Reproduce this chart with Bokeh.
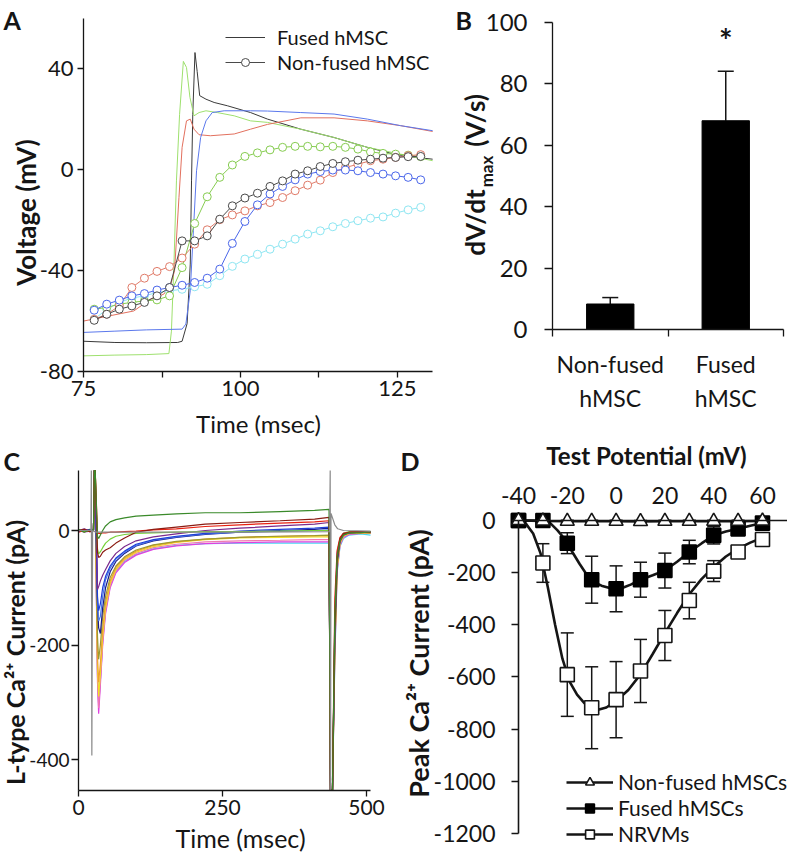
import math
from bokeh.plotting import figure
from bokeh.models import (ColumnDataSource, FixedTicker, Label, Legend, LegendItem,
                          Whisker, TeeHead, LinearAxis, Range1d)
from bokeh.layouts import column, row
from bokeh.embed import file_html
from bokeh.resources import INLINE
from bokeh.core.properties import value

FONT = "Lato"
INK = "#151515"

# ------------------------------------------------------------------ Panel A data
a_fused_black_t = [75, 80, 85, 90, 90.7, 91.5, 92.0, 92.2, 92.4, 92.75, 93.1, 93.5, 94.5, 95.8, 97.9, 101.6, 104.3, 109.6, 114.9, 120.2, 125.5, 130.6]
a_fused_black_v = [-68, -68.5, -68.6, -68.5, -68, -61, -37.4, -4.4, 22, 46.5, 39, 29.4, 28, 26.7, 25.4, 22.7, 20.1, 16.1, 12.8, 8.9, 5.6, 4.2]
a_fused_green_t = [75, 80, 85, 88.6, 89.0, 89.4, 89.8, 90.3, 90.9, 91.4, 91.95, 92.6, 93.4, 94.5, 96.3, 99, 101.6, 104.3, 109.6, 114.9, 120.2, 125.5, 130.6]
a_fused_green_v = [-73.8, -73.5, -73.3, -72.9, -64, -37.4, -4.4, 22, 43, 40.6, 28.7, 21.4, 22.7, 23.4, 22.7, 21.4, 19.4, 18.8, 16.1, 12.8, 8.9, 6.2, 3.6]
a_fused_red_t = [75, 79, 83, 85.7, 87.8, 88.9, 89.5, 90.2, 90.7, 91.4, 92, 92.6, 93.4, 95.2, 99, 101.6, 104.3, 109.6, 114.9, 120.2, 125.5, 130.6]
a_fused_red_v = [-60, -58, -56, -51.3, -49.3, -45.4, -40, -11, 8.9, 19.4, 20.1, 16.1, 13.9, 13.5, 14.2, 16.1, 18, 20.6, 20.6, 19.4, 17.5, 15.2]
a_fused_blue_t = [75, 80, 85, 90.7, 91.3, 92, 92.5, 93, 93.65, 94.5, 95.5, 97.4, 101.6, 104.3, 109.6, 114.9, 120.2, 125.5, 130.6]
a_fused_blue_v = [-64.5, -64, -63.5, -63.2, -61.2, -48, -24.2, -0.4, 12.8, 19.4, 22.7, 23.4, 23.4, 23.3, 22.7, 22.1, 20.1, 17.5, 15.5]

a_nf_time = [76.7, 78.7, 80.7, 82.7, 84.7, 86.7, 88.7, 90.7, 92.7, 94.7, 96.7, 98.7, 100.7, 102.7,
             104.7, 106.7, 108.7, 110.7, 112.7, 114.7, 116.7, 118.7, 120.7, 122.7, 124.7, 126.7, 128.7]
a_nf_green = [-55.3, -54.6, -53.3, -52.6, -52.0, -51.6, -50.0, -38.8, -21.3, -10.7, -3.0, 1.9, 5.3, 6.7,
              7.9, 8.9, 9.3, 9.3, 9.1, 9.3, 8.9, 8.2, 7.1, 6.5, 6.2, 5.8, 5.2]
a_nf_black = [-59.7, -57.3, -55.3, -54.0, -52.6, -50.0, -46.7, -28.2, -28.2, -26.2, -19.6, -14.3, -11.2, -9.3,
              -6.6, -4.4, -1.7, -0.4, 1.3, 2.5, 3.2, 3.8, 4.2, 4.6, 4.9, 5.2, 5.3]
a_nf_red = [-59.3, -57.3, -54.0, -46.7, -43.0, -40.3, -38.4, -35.0, -29.5, -23.8, -19.8, -17.9, -16.3, -14.3,
            -13.0, -11.0, -8.3, -6.1, -4.1, -1.1, 0.9, 2.2, 3.6, 4.2, 4.9, 5.6, 6.0]
a_nf_blue = [-55.7, -53.3, -51.7, -50.0, -49.1, -47.7, -46.7, -45.8, -44.7, -43.0, -39.4, -29.2, -20.5, -13.9,
             -9.6, -6.6, -4.0, -1.7, -0.7, -0.1, -0.1, -0.4, -1.1, -1.7, -2.4, -3.0, -4.0]
a_nf_cyan = [-59.3, -55.3, -52.6, -50.9, -50.0, -48.7, -48.0, -47.4, -46.4, -45.4, -42.0, -38.3, -35.4, -33.5,
             -31.5, -29.5, -27.5, -25.5, -24.2, -22.6, -21.3, -20.2, -19.2, -18.7, -17.2, -15.9, -14.9]
a_x_span = [75, 130.6]
a_y_span = [-80, 60]
a_x_ticks = [75, 87.5, 100, 112.5, 125]
a_x_labels = ["75", "", "100", "", "125"]
a_y_ticks = [-80, -40, 0, 40]

# ------------------------------------------------------------------ Panel B data
b_groups = ["Non-fused\nhMSC", "Fused\nhMSC"]
b_means = [8.3, 68.0]
b_errs = [2.1, 16.1]
b_y_ticks = [0, 20, 40, 60, 80, 100]

# ------------------------------------------------------------------ Panel C data
c_x_span = [0, 507]
c_y_span = [-454, 104.8]
c_time = [0, 10, 20, 26, 27.5, 29, 33, 35, 38, 42, 47, 55, 65, 80, 100, 130, 170, 220, 280, 350, 410,
          435, 437.5, 441, 445, 449, 454, 460, 470, 490, 507]
c_darkgreen = [2, -3, 1, 0, 104.8, 104.8, -10, -14, -8, 0, 8, 15, 19, 22, 25, 27, 29, 31, 31, 33, 35, 37, -454, -454, -150, -45, -18, -8, -4, -4, -2]
c_brown = [0, 2, -2, 0, 104.8, 104.8, -38, -47, -45, -38, -34, -30, -22, -13, -3, 2, 6, 11, 14, 17, 20, 23, -454, -454, -170, -50, -15, -6, -3, -2, -3]
c_red = [-3, 0, -2, 0, 104.8, 104.8, -4, -5, -5, -4, -4, -3, -3, -2, -1, 1, 3, 7, 10, 13, 15, 17, -454, -454, -120, -35, -12, -5, -3, -2, -2]
c_lightgreen = [1, -2, 0, 0, 104.8, 104.8, -32, -41, -37, -30, -22, -15, -10, -7, -5, -4, -3, -2, -2, -1, 0, 0, -454, -454, -160, -45, -14, -5, -2, -2, -3]
c_purple = [0, 3, -1, 0, 104.8, 104.8, -103, -98, -88, -78, -68, -53, -40, -28, -18, -11, -6, 0, 4, 8, 11, 14, -454, -454, -170, -50, -16, -6, -3, -2, -3]
c_blue = [-2, 0, 1, 0, 104.8, 90, -115, -140, -128, -100, -80, -62, -48, -36, -24, -16, -10, -5, -1, 2, 4, 6, -454, -454, -150, -40, -14, -5, -3, -2, -3]
c_navy = [0, -1, 2, 0, 104.8, 80, -130, -170, -180, -135, -100, -72, -54, -40, -27, -18, -12, -7, -3, 0, 2, 4, -454, -454, -190, -55, -18, -7, -4, -3, -3]
c_lightblue = [1, 0, -2, 0, 104.8, 85, -125, -158, -150, -115, -86, -66, -50, -38, -26, -17, -11, -6, -3, -1, 0, 1, -454, -454, -175, -50, -16, -6, -3, -2, -2]
c_olive = [0, -2, 0, 0, 104.8, 60, -185, -225, -200, -150, -115, -82, -62, -46, -34, -25, -19, -15, -12, -10, -9, -8, -454, -454, -200, -60, -20, -8, -4, -3, -4]
c_yellow = [-1, 1, 0, 0, 104.8, 50, -240, -290, -250, -185, -135, -92, -68, -50, -38, -28, -21, -16, -13, -12, -11, -11, -454, -454, -210, -65, -22, -9, -5, -4, -4]
c_orange = [0, -1, 1, 0, 104.8, 55, -220, -265, -232, -172, -126, -88, -65, -48, -36, -26, -20, -15, -12, -10, -9, -9, -454, -454, -205, -62, -21, -9, -5, -4, -4]
c_magenta = [0, -3, -1, 0, 104.8, 45, -265, -320, -270, -200, -145, -100, -74, -56, -43, -33, -27, -23, -21, -20, -20, -20, -454, -454, -220, -70, -26, -12, -7, -5, -5]
c_cyan = [-2, 0, -1, 0, 104.8, 48, -250, -305, -262, -192, -140, -97, -72, -54, -42, -32, -26, -23, -22, -22, -22, -22, -454, -454, -230, -75, -28, -14, -8, -6, -8]
c_pink = [0, 1, -1, 0, 104.8, 48, -255, -310, -262, -195, -140, -96, -70, -52, -40, -30, -24, -20, -18, -17, -16, -16, -454, -454, -215, -68, -24, -11, -6, -5, -5]
c_gray_time = [0, 21.5, 22.3, 23.2, 24.5, 30, 100, 300, 436, 437, 437.6, 438.4, 441, 445, 450, 460, 507]
c_gray = [0, 0, 104.8, -393, 0, -3, -3, -3, -2, 104.8, -454, 30, 22, 10, 3, 0, -1]
c_x_ticks = [0, 250, 500]
c_y_ticks = [-400, -200, 0]

# ------------------------------------------------------------------ Panel D data
d_potential = [-40, -30, -20, -10, 0, 10, 20, 30, 40, 50, 60]
d_nonfused = [0, -2, -3, -3, -3, -4, -3, -3, -3, -3, -2]
d_nonfused_err = [3, 3, 4, 4, 4, 4, 4, 4, 4, 4, 3]
d_fused = [0, 0, -87, -227, -262, -227, -192, -121, -57, -32, -10]
d_fused_err = [0, 5, 40, 90, 88, 67, 67, 45, 33, 16, 8]
d_nrvm = [0, -163, -591, -718, -687, -577, -441, -307, -194, -121, -73]
d_nrvm_err = [0, 74, 160, 157, 146, 121, 96, 70, 40, 15, 6]
d_fused_fit_x = [-40, -35, -30, -27, -24, -21, -18, -15, -12, -9, -6, -3, 0, 3, 6, 10, 15, 20, 25, 30, 35, 40, 45, 50, 55, 60]
d_fused_fit_y = [0, 0, -1, -10, -38, -72, -120, -166, -208, -236, -250, -258, -262, -257, -246, -227, -210, -192, -158, -121, -88, -57, -42, -32, -20, -10]
d_nrvm_fit_x = [-40, -37, -34, -31, -28, -25, -22, -19, -16, -13, -10, -7, -4, 0, 5, 10, 15, 20, 25, 30, 35, 40, 45, 50, 55, 60]
d_nrvm_fit_y = [0, -12, -50, -125, -255, -400, -530, -619, -668, -700, -718, -725, -717, -692, -650, -590, -512, -432, -355, -283, -225, -178, -138, -108, -85, -66]
d_x_ticks = [-40, -20, 0, 20, 40, 60]
d_y_ticks = [-1200, -1000, -800, -600, -400, -200, 0]


def plain(ticks, labels=None):
    labels = labels or [str(t) for t in ticks]
    return dict(zip(ticks, labels))


def make_axis(loc, bounds, ticks, size, tick_out, standoff, overrides=None, line_w=1.3):
    return LinearAxis(fixed_location=loc, bounds=tuple(bounds), ticker=FixedTicker(ticks=ticks),
                      major_label_overrides=overrides or plain(ticks),
                      axis_line_color=INK, axis_line_width=line_w,
                      major_tick_line_color=INK, major_tick_line_width=1.3,
                      major_tick_out=tick_out, major_tick_in=0, minor_tick_line_color=None,
                      major_label_text_font=FONT, major_label_text_font_size=size,
                      major_label_text_color=INK, major_label_standoff=standoff)


def base_fig(w, h, xr, yr):
    # the whole canvas is the plot frame; axes sit at fixed spots inside it
    p = figure(width=w, height=h, x_range=Range1d(*xr), y_range=Range1d(*yr),
               x_axis_location=None, y_axis_location=None, title_location=None,
               output_backend="svg", toolbar_location=None, min_border=0)
    for g in p.grid:
        g.visible = False
    p.outline_line_color = None
    return p


def put(p, text, sx, sy, size, bold=False, angle=0.0, align="left", baseline="top"):
    # sx, sy: pixels from the left / top of this figure
    p.add_layout(Label(x=sx, y=p.height - sy, x_units="screen", y_units="screen", text=text,
                       angle=angle, text_font=FONT, text_font_size=size,
                       text_font_style="bold" if bold else "normal",
                       text_align=align, text_baseline=baseline, text_color=INK))


# ------------------------------------------------------------------ Panel A  (canvas 0..455 x 0..440)
pA = base_fig(455, 440, (61.78, 134.24), (-107.37, 67.14))
pA.add_layout(make_axis(a_y_span[0], a_x_span, a_x_ticks, "22px", 6, 4,
                        overrides=plain(a_x_ticks, a_x_labels)), "below")
pA.add_layout(make_axis(a_x_span[0], a_y_span, a_y_ticks, "22px", 6, 4), "left")

r_fb = pA.line(a_fused_black_t, a_fused_black_v, line_color="#3a3a3a", line_width=1)
pA.line(a_fused_green_t, a_fused_green_v, line_color="#9ee06e", line_width=1)
pA.line(a_fused_red_t, a_fused_red_v, line_color="#e2705e", line_width=1)
pA.line(a_fused_blue_t, a_fused_blue_v, line_color="#5b78ec", line_width=1)
nf_series = [(a_nf_cyan, "#8ee6f2"), (a_nf_green, "#86cc50"), (a_nf_red, "#e07a68"),
             (a_nf_blue, "#4a66ea"), (a_nf_black, "#4a4a4a")]
nf_r = []
for vals, col in nf_series:
    rl = pA.line(a_nf_time, vals, line_color=col, line_width=1)
    rs = pA.scatter(a_nf_time, vals, marker="circle", size=8, fill_color="white", line_color=col, line_width=1)
    nf_r = [rl, rs]
pA.add_layout(Legend(items=[LegendItem(label="Fused hMSC", renderers=[r_fb]),
                            LegendItem(label="Non-fused hMSC", renderers=nf_r)],
                     location=(225, 366), glyph_width=40, glyph_height=20, label_height=20, spacing=1,
                     padding=0, margin=0, label_standoff=12, border_line_color=None,
                     background_fill_alpha=0, label_text_font=FONT, label_text_font_size="20px",
                     label_text_color=INK))
put(pA, "A", 3, 4, "25px", bold=True)
put(pA, "Voltage (mV)", 25, 212, "26px", bold=True, angle=math.pi / 2, align="center", baseline="middle")
put(pA, "Time (msec)", 258, 423, "24px", align="center", baseline="middle")

# ------------------------------------------------------------------ Panel B  (canvas 455..787 x 0..440)
b_x = [i + 0.5 for i in range(len(b_groups))]
b_upper = [m + e for m, e in zip(b_means, b_errs)]
pB = base_fig(332, 440, (-0.8398, 2.0346), (-36.16, 107.17))
bx_axis = make_axis(0, (0, len(b_groups)), b_x, "23px", 7, 14, overrides=plain(b_x, b_groups))
bx_axis.ticker = FixedTicker(ticks=b_x, minor_ticks=list(range(len(b_groups) + 1)))
bx_axis.major_tick_line_color = None
bx_axis.minor_tick_line_color = INK
bx_axis.minor_tick_line_width = 1.3
bx_axis.minor_tick_out = 7
bx_axis.minor_tick_in = 0
pB.add_layout(bx_axis, "below")
pB.add_layout(make_axis(0, (b_y_ticks[0], b_y_ticks[-1]), b_y_ticks, "24px", 8, 17), "left")
srcB = ColumnDataSource(dict(x=b_x, mean=b_means, upper=b_upper))
pB.add_layout(Whisker(source=srcB, base="x", lower="mean", upper="upper", line_width=1.5,
                      line_color=INK, lower_head=None,
                      upper_head=TeeHead(size=16, line_width=1.5, line_color=INK)))
pB.vbar(x="x", top="mean", bottom=0, width=0.41, source=srcB, fill_color="black", line_color="black")
pB.text(x=[b_x[1]], y=[b_upper[1] + 10], text=["*"], text_font=value(FONT), text_font_size="32px",
        text_font_style="bold", text_align="center", text_baseline="middle", text_color=INK)
put(pB, "B", 0, 4, "25px", bold=True)
put(pB, "dV/dt", 19, 222, "26px", bold=True, angle=math.pi / 2, align="center", baseline="middle")
put(pB, "max", 31, 171, "17px", bold=True, angle=math.pi / 2, align="center", baseline="middle")
put(pB, "(V/s)", 19, 120, "26px", bold=True, angle=math.pi / 2, align="center", baseline="middle")

# ------------------------------------------------------------------ Panel C  (canvas 0..393 x 440..852)
pC = base_fig(393, 412, (-135.4, 546.9), (-562.4, 157.2))
pC.add_layout(make_axis(c_y_span[0], c_x_span, c_x_ticks, "21px", 6, 4), "below")
pC.add_layout(make_axis(c_x_span[0], c_y_span, c_y_ticks, "19px", 7, 2), "left")
c_series = [(c_cyan, "#48d8f2"), (c_magenta, "#e040e0"), (c_pink, "#f07ab0"), (c_yellow, "#f0e020"),
            (c_orange, "#f0a030"), (c_olive, "#9c9a30"), (c_navy, "#1a1a8c"), (c_lightblue, "#4a78e8"),
            (c_blue, "#1f3fd8"), (c_purple, "#7b2a8c"), (c_lightgreen, "#77d23a"), (c_red, "#e82010"),
            (c_brown, "#8b1c12"), (c_darkgreen, "#3a8a2a")]
for vals, col in c_series:
    pC.line(c_time, vals, line_color=col, line_width=1.2)
pC.line(c_gray_time, c_gray, line_color="#8a8a8a", line_width=1.2)
put(pC, "C", 3, 5, "25px", bold=True)
put(pC, "L-type Ca²⁺ Current (pA)", 14, 212, "25px", bold=True, angle=math.pi / 2,
    align="center", baseline="middle")
put(pC, "Time (msec)", 240, 397, "25px", align="center", baseline="middle")

# ------------------------------------------------------------------ Panel D  (canvas 393..787 x 440..852)
pD = base_fig(394, 412, (-91.23, 70.25), (-1273.0, 306.7))
pD.add_layout(make_axis(0, (d_potential[0], 70.25), d_x_ticks, "23px", 0, 16, line_w=1.6), "above")
pD.add_layout(make_axis(d_potential[0], (d_y_ticks[0], d_y_ticks[-1]), d_y_ticks, "23px", 7, 16,
                        line_w=1.6), "left")
srcD = ColumnDataSource(dict(
    x=d_potential,
    nf_lo=[v - e for v, e in zip(d_nonfused, d_nonfused_err)],
    nf_hi=[v + e for v, e in zip(d_nonfused, d_nonfused_err)],
    f_lo=[v - e for v, e in zip(d_fused, d_fused_err)],
    f_hi=[v + e for v, e in zip(d_fused, d_fused_err)],
    n_lo=[v - e for v, e in zip(d_nrvm, d_nrvm_err)],
    n_hi=[v + e for v, e in zip(d_nrvm, d_nrvm_err)],
))
for lo, hi in [("n_lo", "n_hi"), ("f_lo", "f_hi"), ("nf_lo", "nf_hi")]:
    pD.add_layout(Whisker(source=srcD, base="x", lower=lo, upper=hi, line_width=1.5, line_color=INK,
                          lower_head=TeeHead(size=13, line_width=1.5, line_color=INK),
                          upper_head=TeeHead(size=13, line_width=1.5, line_color=INK)))
r_nrvm_l = pD.line(d_nrvm_fit_x, d_nrvm_fit_y, line_color=INK, line_width=2.6)
r_f_l = pD.line(d_fused_fit_x, d_fused_fit_y, line_color=INK, line_width=2.6)
r_nf_l = pD.line(d_potential, d_nonfused, line_color=INK, line_width=2.6)
r_nrvm_s = pD.scatter(d_potential, d_nrvm, marker="square", size=14, fill_color="white",
                      line_color=INK, line_width=1.6)
r_f_s = pD.scatter(d_potential, d_fused, marker="square", size=14, fill_color="black",
                   line_color="black", line_width=1.6)
r_nf_s = pD.scatter(d_potential, d_nonfused, marker="triangle", size=14, fill_color="white",
                    line_color=INK, line_width=1.6)
pD.add_layout(Legend(items=[LegendItem(label="Non-fused hMSCs", renderers=[r_nf_l, r_nf_s]),
                            LegendItem(label="Fused hMSCs", renderers=[r_f_l, r_f_s]),
                            LegendItem(label="NRVMs", renderers=[r_nrvm_l, r_nrvm_s])],
                     location=(173, 6), glyph_width=47, glyph_height=22, label_height=22, spacing=1,
                     padding=0, margin=0, label_standoff=5, border_line_color=None,
                     background_fill_alpha=0, label_text_font=FONT, label_text_font_size="21px",
                     label_text_color=INK))
put(pD, "D", 7, 5, "25px", bold=True)
put(pD, "Test Potential (mV)", 253, 15, "24px", bold=True, align="center", baseline="middle")
put(pD, "Peak Ca²⁺ Current (pA)", 25, 223, "27px", bold=True, angle=math.pi / 2,
    align="center", baseline="middle")

layout = column(row(column(pA), column(pB)), row(column(pC), column(pD)))
open("out.html", "w").write(file_html(layout, INLINE))
